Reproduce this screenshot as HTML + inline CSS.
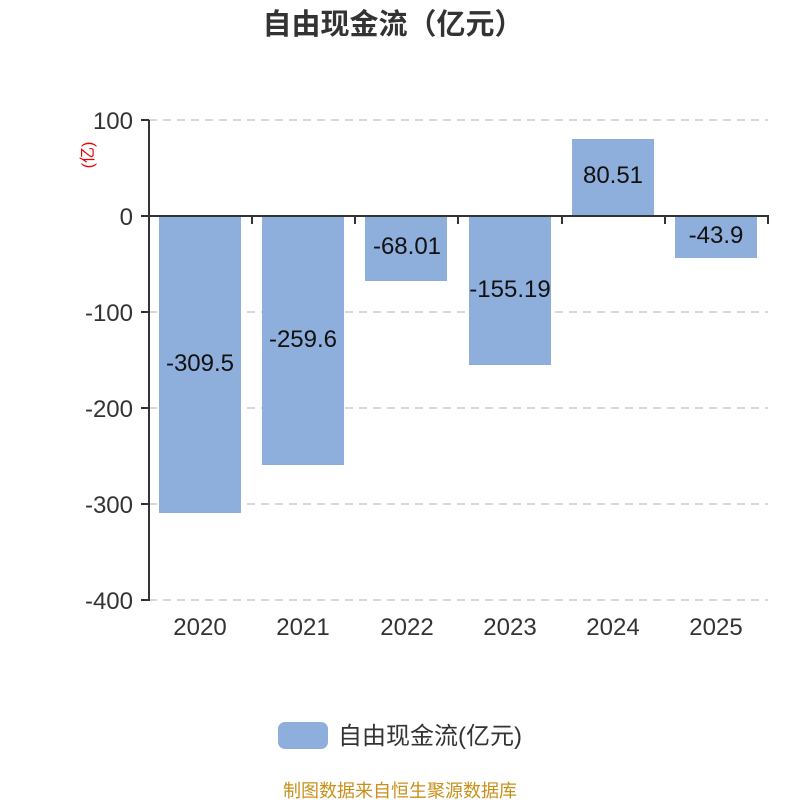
<!DOCTYPE html>
<html><head><meta charset="utf-8"><style>
html,body{margin:0;padding:0;background:#fff;}
svg{display:block;font-family:"Liberation Sans","Noto Sans CJK SC",sans-serif;}
</style></head><body>
<svg width="800" height="800" viewBox="0 0 800 800">
<rect width="800" height="800" fill="#fff"/>
<text x="393" y="34" text-anchor="middle" font-size="29" font-weight="bold" fill="#333">自由现金流（亿元）</text>
<g stroke="#ccc" stroke-width="1.5" stroke-dasharray="8,6">
<line x1="149" y1="120" x2="768" y2="120"/>
<line x1="149" y1="312" x2="768" y2="312"/>
<line x1="149" y1="408" x2="768" y2="408"/>
<line x1="149" y1="504" x2="768" y2="504"/>
<line x1="149" y1="600" x2="768" y2="600"/>
</g>
<g fill="#8eaedb">
<rect x="159" y="216" width="82" height="297"/>
<rect x="262" y="216" width="82" height="249"/>
<rect x="365" y="216" width="82" height="65"/>
<rect x="469" y="216" width="82" height="149"/>
<rect x="572" y="139" width="82" height="77"/>
<rect x="675" y="216" width="82" height="42"/>
</g>
<g stroke="#333" stroke-width="2" fill="none">
<line x1="149" y1="120" x2="149" y2="601"/>
<line x1="141" y1="120" x2="149" y2="120"/>
<line x1="141" y1="216" x2="149" y2="216"/>
<line x1="141" y1="312" x2="149" y2="312"/>
<line x1="141" y1="408" x2="149" y2="408"/>
<line x1="141" y1="504" x2="149" y2="504"/>
<line x1="141" y1="600" x2="149" y2="600"/>
<line x1="149" y1="216" x2="769" y2="216"/>
<line x1="252" y1="216" x2="252" y2="224"/>
<line x1="355" y1="216" x2="355" y2="224"/>
<line x1="458" y1="216" x2="458" y2="224"/>
<line x1="562" y1="216" x2="562" y2="224"/>
<line x1="665" y1="216" x2="665" y2="224"/>
<line x1="768" y1="216" x2="768" y2="224"/>
</g>
<g font-size="24" fill="#333" text-anchor="end">
<text x="133" y="129">100</text>
<text x="133" y="225">0</text>
<text x="133" y="321">-100</text>
<text x="133" y="417">-200</text>
<text x="133" y="513">-300</text>
<text x="133" y="609">-400</text>
</g>
<text transform="translate(93,155) rotate(-90)" text-anchor="middle" font-size="16" fill="#e00">(亿)</text>
<g font-size="24" fill="#333" text-anchor="middle">
<text x="200" y="635">2020</text>
<text x="303" y="635">2021</text>
<text x="407" y="635">2022</text>
<text x="510" y="635">2023</text>
<text x="613" y="635">2024</text>
<text x="716" y="635">2025</text>
</g>
<g font-size="24" fill="#111" text-anchor="middle">
<text x="200" y="371">-309.5</text>
<text x="303" y="347">-259.6</text>
<text x="407" y="254">-68.01</text>
<text x="510" y="297">-155.19</text>
<text x="613" y="183">80.51</text>
<text x="716" y="243">-43.9</text>
</g>
<rect x="278" y="722" width="50" height="27" rx="7" fill="#8eaedb"/>
<text x="338" y="744" font-size="24" fill="#333">自由现金流(亿元)</text>
<text x="400" y="797" text-anchor="middle" font-size="18" fill="#c8901a">制图数据来自恒生聚源数据库</text>
</svg>
</body></html>
